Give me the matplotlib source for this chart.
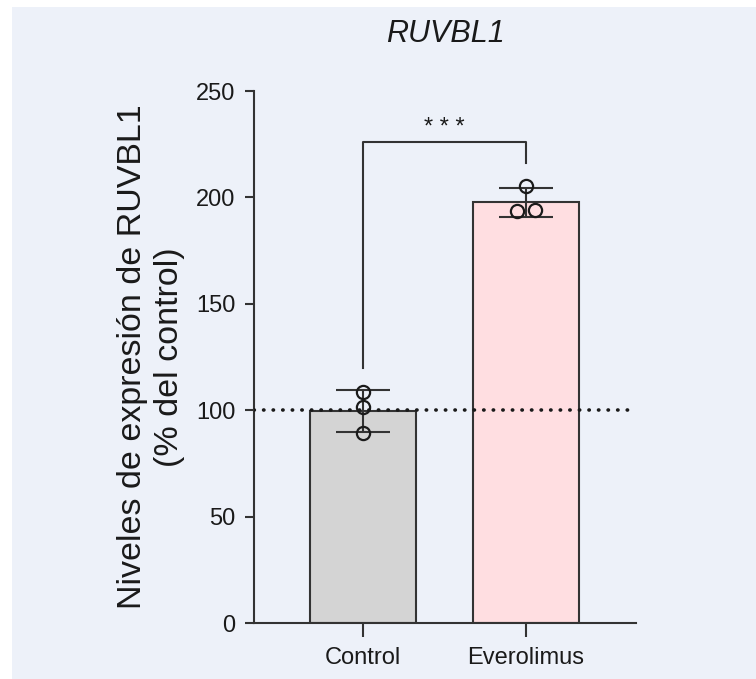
import numpy as np
import matplotlib
matplotlib.use('Agg')
import matplotlib.pyplot as plt
from matplotlib.patches import Rectangle

# ─────────────────────────────────────────────
# Data
# ─────────────────────────────────────────────
groups = ['Control', 'Everolimus']
control_pts = [108.7, 101.4, 89.2]
everolimus_pts = [205.5, 193.6, 194.0]
# horizontal jitter of the replicate points (category units)
control_jit = [0.0, 0.0, 0.0]
everolimus_jit = [0.0, -0.055, 0.055]
yticks = [0, 50, 100, 150, 200, 250]
reference_level = 100
sig_label = '* * *'
sig_y = 226
sig_drop = [120, 216]

title = 'RUVBL1'
ylabel = 'Niveles de expresión de RUVBL1\n(% del control)'

# ─────────────────────────────────────────────
# Style
# ─────────────────────────────────────────────
plt.rcParams['font.family'] = ['Liberation Sans', 'DejaVu Sans']
ink = '#1a1a1a'
edge = '#333333'
bg = '#EDF1F9'
fills = ['#D4D4D4', '#FFDEE1']

fig = plt.figure(figsize=(7.56, 6.79), dpi=100, facecolor='white')
fig.patches.append(Rectangle((12 / 756, 0), 1, 1 - 7 / 679,
                             transform=fig.transFigure, facecolor=bg,
                             edgecolor='none', zorder=-10))

ax = fig.add_axes([254 / 756, 56 / 679, 382 / 756, 532 / 679])
ax.set_facecolor('none')

data = [np.array(control_pts), np.array(everolimus_pts)]
jits = [control_jit, everolimus_jit]
x = np.arange(len(groups))
means = [d.mean() for d in data]
sds = [d.std(ddof=1) for d in data]

ax.bar(x, means, width=0.65, color=fills, edgecolor=edge, linewidth=1.5,
       zorder=2)

# reference line at 100 %
ax.axhline(reference_level, xmin=0, xmax=(1.638 + 0.669) / (1.675 + 0.669),
           color=ink, linewidth=2.6, linestyle=(0, (0.1, 2.55)),
           dash_capstyle='round', zorder=3)

ax.errorbar(x, means, yerr=sds, fmt='none', ecolor=edge, elinewidth=1.5,
            capsize=27 * 0.72, capthick=1.5, zorder=4)

for i, (d, j) in enumerate(zip(data, jits)):
    ax.plot(i + np.array(j), d, 'o', markersize=9.5, markerfacecolor='none',
            markeredgecolor=ink, markeredgewidth=1.6, zorder=5)

# significance bracket
ax.plot([0, 0, 1, 1], [sig_drop[0], sig_y, sig_y, sig_drop[1]],
        color=edge, linewidth=1.5, zorder=3, clip_on=False)
ax.text(0.5, sig_y + 1.5, sig_label, ha='center', va='bottom', fontsize=17,
        color=ink)

# axes
ax.set_xlim(-0.669, 1.675)
ax.set_ylim(0, 250)
ax.set_xticks(x)
ax.set_xticklabels(groups, fontsize=17, color=ink)
ax.set_yticks(yticks)
ax.set_yticklabels([str(t) for t in yticks], fontsize=17, color=ink)
ax.tick_params(axis='y', length=6.5, width=1.5, color=edge, pad=7)
ax.tick_params(axis='x', length=10, width=1.5, color=edge, pad=7)

for s in ['top', 'right']:
    ax.spines[s].set_visible(False)
for s in ['left', 'bottom']:
    ax.spines[s].set_linewidth(1.5)
    ax.spines[s].set_color(edge)

ax.set_ylabel(ylabel, fontsize=24.5, color=ink, labelpad=8, linespacing=1.25)

fig.text(445 / 756, 1 - 42 / 679, title, ha='center', va='baseline',
         fontsize=22, style='italic', color=ink)

fig.savefig('out.png', dpi=100, facecolor='white')
